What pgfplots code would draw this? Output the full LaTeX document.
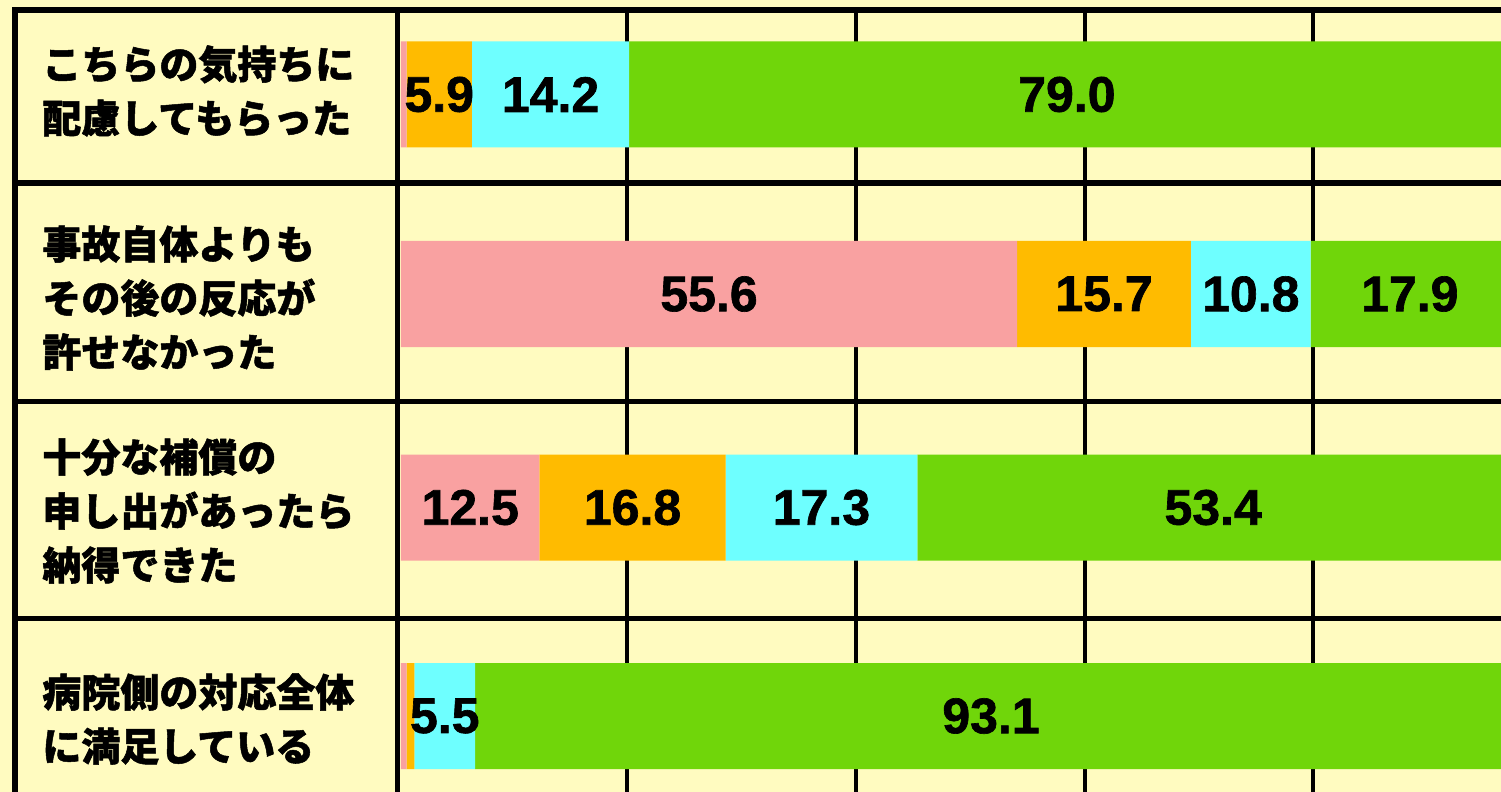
\documentclass[border=0pt]{standalone}
\usepackage{pgfplots}
\pgfplotsset{compat=1.18}
\usepackage{fontspec}
\setmainfont{Liberation Sans}
\newfontfamily\numfont[BoldFeatures={FakeBold=1.3}]{Liberation Sans}
\newfontfamily\cjk[BoldFeatures={FakeBold=1.3}]{Noto Sans CJK JP}
\definecolor{cream}{RGB}{255,251,192}
\definecolor{cpink}{RGB}{249,161,161}
\definecolor{corange}{RGB}{255,187,0}
\definecolor{ccyan}{RGB}{110,255,255}
\definecolor{cgreen}{RGB}{112,214,10}
\pgfplotsset{base/.style={
  scale only axis, width=750.5pt, height=396pt,
  xmin=-36.19, xmax=99.28, ymin=0, ymax=792, y dir=reverse,
  axis line style={draw=none}, xtick=\empty, ytick=\empty,
}}
\begin{document}
\begin{tikzpicture}
% background, grid and table lines
\begin{axis}[base, axis background/.style={fill=cream}]
\pgfplotsinvokeforeach{20.40,41.07,61.73,82.31}{
  \draw[line width=2.2pt] (axis cs:#1,10) -- (axis cs:#1,792);
}
\draw[line width=2.8pt, line join=miter]
  (axis cs:-34.84,792) -- (axis cs:-34.84,10) -- (axis cs:99.28,10);
\draw[line width=2.8pt] (axis cs:-0.316,10) -- (axis cs:-0.316,792);
\pgfplotsinvokeforeach{183,401.5,618.5}{
  \draw[line width=2.8pt] (axis cs:-34.84,#1) -- (axis cs:99.28,#1);
}
\begin{scope}[every node/.style={anchor=west, align=left, inner sep=0pt,
    font=\cjk\bfseries\fontsize{19.5}{27}\selectfont}]
\node at (axis cs:-32.40,91) {こちらの気持ちに\\配慮してもらった};
\node at (axis cs:-32.40,298) {事故自体よりも\\その後の反応が\\許せなかった};
\node at (axis cs:-32.40,511) {十分な補償の\\申し出があったら\\納得できた};
\node at (axis cs:-32.40,719) {病院側の対応全体\\に満足している};
\end{scope}
\end{axis}
% stacked bars
\begin{axis}[base, xbar stacked, bar width=106]
\addplot[fill=cpink, draw=none] coordinates {(0.5,94.5) (55.6,294) (12.5,507.5) (0.5,716)};
\addplot[fill=corange, draw=none] coordinates {(5.9,94.5) (15.7,294) (16.8,507.5) (0.7,716)};
\addplot[fill=ccyan, draw=none] coordinates {(14.2,94.5) (10.8,294) (17.3,507.5) (5.5,716)};
\addplot[fill=cgreen, draw=none] coordinates {(79.0,94.5) (17.9,294) (53.4,507.5) (93.1,716)};
\end{axis}
% value labels at segment centres
\begin{axis}[base]
\addplot[only marks, mark=none, point meta=explicit symbolic,
  nodes near coords,
  every node near coord/.style={anchor=center, text=black,
    font=\numfont\bfseries\fontsize{25}{25}\selectfont}]
  table[meta=lab] {
x y lab
3.45 94.5 5.9
13.5 94.5 14.2
60.1 94.5 79.0
27.8 294 55.6
63.45 294 15.7
76.7 294 10.8
91.05 294 17.9
6.25 507.5 12.5
20.9 507.5 16.8
37.95 507.5 17.3
73.3 507.5 53.4
3.95 716 5.5
53.25 716 93.1
};
\end{axis}
\end{tikzpicture}
\end{document}
